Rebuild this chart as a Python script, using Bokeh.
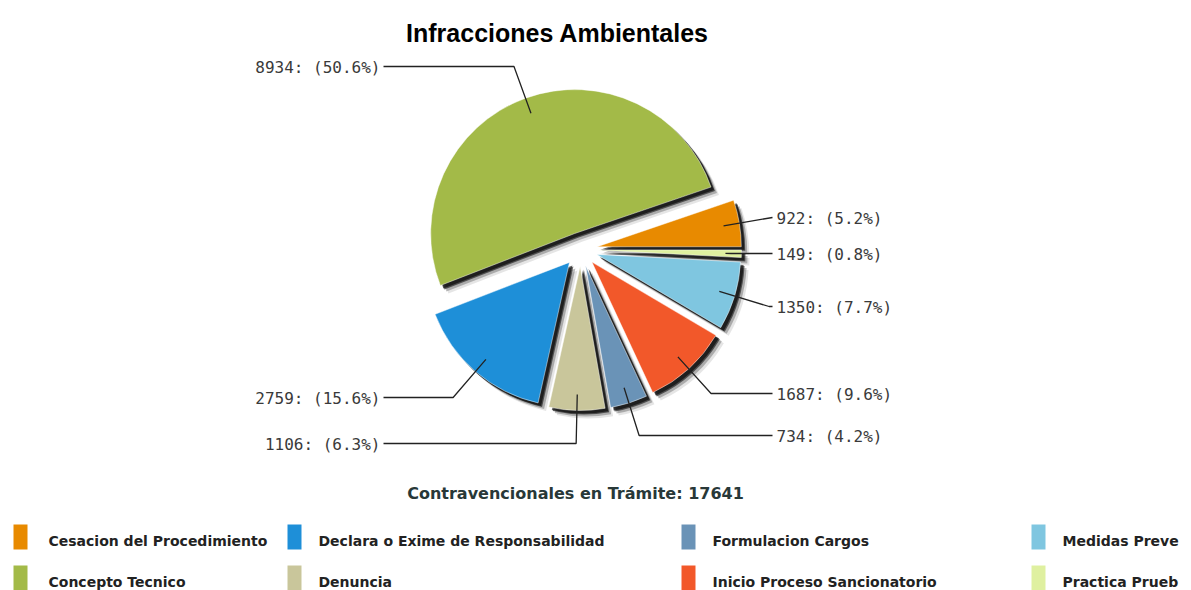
import math
from bokeh.plotting import figure
from bokeh.models import Range1d, ColumnDataSource
from bokeh.embed import file_html
from bokeh.resources import INLINE
from bokeh.core.properties import value

# ---------------- data ----------------
title_text = "Infracciones Ambientales"
subtitle_prefix = "Contravencionales en Trámite"
categories = [
    "Cesacion del Procedimiento",
    "Concepto Tecnico",
    "Declara o Exime de Responsabilidad",
    "Denuncia",
    "Formulacion Cargos",
    "Inicio Proceso Sancionatorio",
    "Medidas Preve",      # shown cut off at the right edge in the reference
    "Practica Prueb",     # shown cut off at the right edge in the reference
]
counts = [922, 8934, 2759, 1106, 734, 1687, 1350, 149]
colors = ["#E88A00", "#A3BA48", "#1E8FD8", "#C9C69B",
          "#6A93B7", "#F2582A", "#7FC6E0", "#DFF0A0"]

# ---------------- layout ----------------
W, H = 1191, 590


def Y(ys):
    # convert a picture pixel row into data y (1 data unit == 1 px)
    return H - ys


CX, CY = 580, 249          # pie centre (px)
R = 144                    # radius
EXPLODE = 17               # explode distance of each slice
LEADER_R = 128             # where leader lines start inside a slice
label_side = ["right", "left", "left", "left", "right", "right", "right", "right"]
label_rows = [217, 66, 397, 443, 435, 393, 306, 253]   # y of each label
RIGHT_LINE_END, RIGHT_TEXT_X = 772, 776
LEFT_LINE_END, LEFT_TEXT_X = 383, 380

legend_swatch_x = [13, 287, 681, 1031]
legend_text_x = [48, 318, 712, 1062]
legend_row_y = [536, 577]

p = figure(width=W, height=H, x_range=Range1d(0, W), y_range=Range1d(0, H),
           output_backend="svg", toolbar_location=None, min_border=0)
p.axis.visible = False
p.grid.visible = False
p.outline_line_color = None
p.background_fill_color = "white"
p.border_fill_color = "white"

total = sum(counts)
starts, ends, mids = [], [], []
acc = 0.0
for c in counts:
    a0 = 2 * math.pi * acc / total
    acc += c
    a1 = 2 * math.pi * acc / total
    starts.append(a0)
    ends.append(a1)
    mids.append((a0 + a1) / 2)

apex_x = [CX + EXPLODE * math.cos(m) for m in mids]
apex_y = [Y(CY) + EXPLODE * math.sin(m) for m in mids]

src = ColumnDataSource(dict(x=apex_x, y=apex_y, start=starts, end=ends,
                            color=colors, cat=categories, n=counts))

# shadows (soft halo, then darker core)
for off, alpha in [(8, 0.10), (6, 0.25), (4, 0.55), (3, 0.6)]:
    p.wedge(x=[x + off for x in apex_x], y=[y - off for y in apex_y], radius=R,
            start_angle=starts, end_angle=ends, fill_color="black",
            fill_alpha=alpha, line_color=None)

p.wedge(x="x", y="y", radius=R, start_angle="start", end_angle="end",
        fill_color="color", line_color="white", line_alpha=0.45, line_width=1,
        source=src)

# leader lines + labels
lx, ly, lt, la = [], [], [], []
for i, c in enumerate(counts):
    m = mids[i]
    dx, dy = math.cos(m), math.sin(m)
    sx = apex_x[i] + LEADER_R * dx
    sy = apex_y[i] + LEADER_R * dy
    ty = Y(label_rows[i])
    right = label_side[i] == "right"
    end_x = RIGHT_LINE_END if right else LEFT_LINE_END
    if abs(dy) > 1e-6:
        ex = sx + (ty - sy) / dy * dx
    else:
        ex = sx
    ex = min(ex, end_x) if right else max(ex, end_x)
    p.line(x=[sx, ex, end_x], y=[sy, ty, ty], line_color="#222222", line_width=1.3)
    pct = 100.0 * c / total
    lt.append(f"{c}: ({pct:.1f}%)")
    lx.append(RIGHT_TEXT_X if right else LEFT_TEXT_X)
    ly.append(ty)
    la.append("left" if right else "right")

p.text(x=lx, y=[v - 1 for v in ly], text=lt, text_align=la, text_baseline="middle",
       text_font=value("DejaVu Sans Mono"), text_font_size="16px", text_color="#3a3a3a")

# title
p.text(x=[557], y=[Y(32)], text=[title_text], text_align="center",
       text_baseline="alphabetic", text_font=value("Liberation Sans"),
       text_font_style="bold", text_font_size="25px", text_color="#000000")

# subtitle
p.text(x=[575], y=[Y(493)], text=[f"{subtitle_prefix}: {total}"], text_align="center",
       text_baseline="alphabetic", text_font=value("DejaVu Sans"),
       text_font_style="bold", text_font_size="16px", text_color="#283838")

# legend
sw_l, sw_r, sw_t, sw_b, tx, ty_, tt = [], [], [], [], [], [], []
for i, cat in enumerate(categories):
    col, row = i // 2, i % 2
    yc = legend_row_y[row]
    sw_l.append(legend_swatch_x[col])
    sw_r.append(legend_swatch_x[col] + 14)
    sw_t.append(Y(yc - 12))
    sw_b.append(Y(yc + 13))
    tx.append(legend_text_x[col])
    ty_.append(Y(yc + 4))
    tt.append(cat)
p.quad(left=sw_l, right=sw_r, top=sw_t, bottom=sw_b, fill_color=colors, line_color=None)
p.text(x=tx, y=ty_, text=tt, text_align="left", text_baseline="alphabetic",
       text_font=value("DejaVu Sans"), text_font_style="bold", text_font_size="14px",
       text_color="#222222")

open("out.html", "w").write(file_html(p, INLINE))
